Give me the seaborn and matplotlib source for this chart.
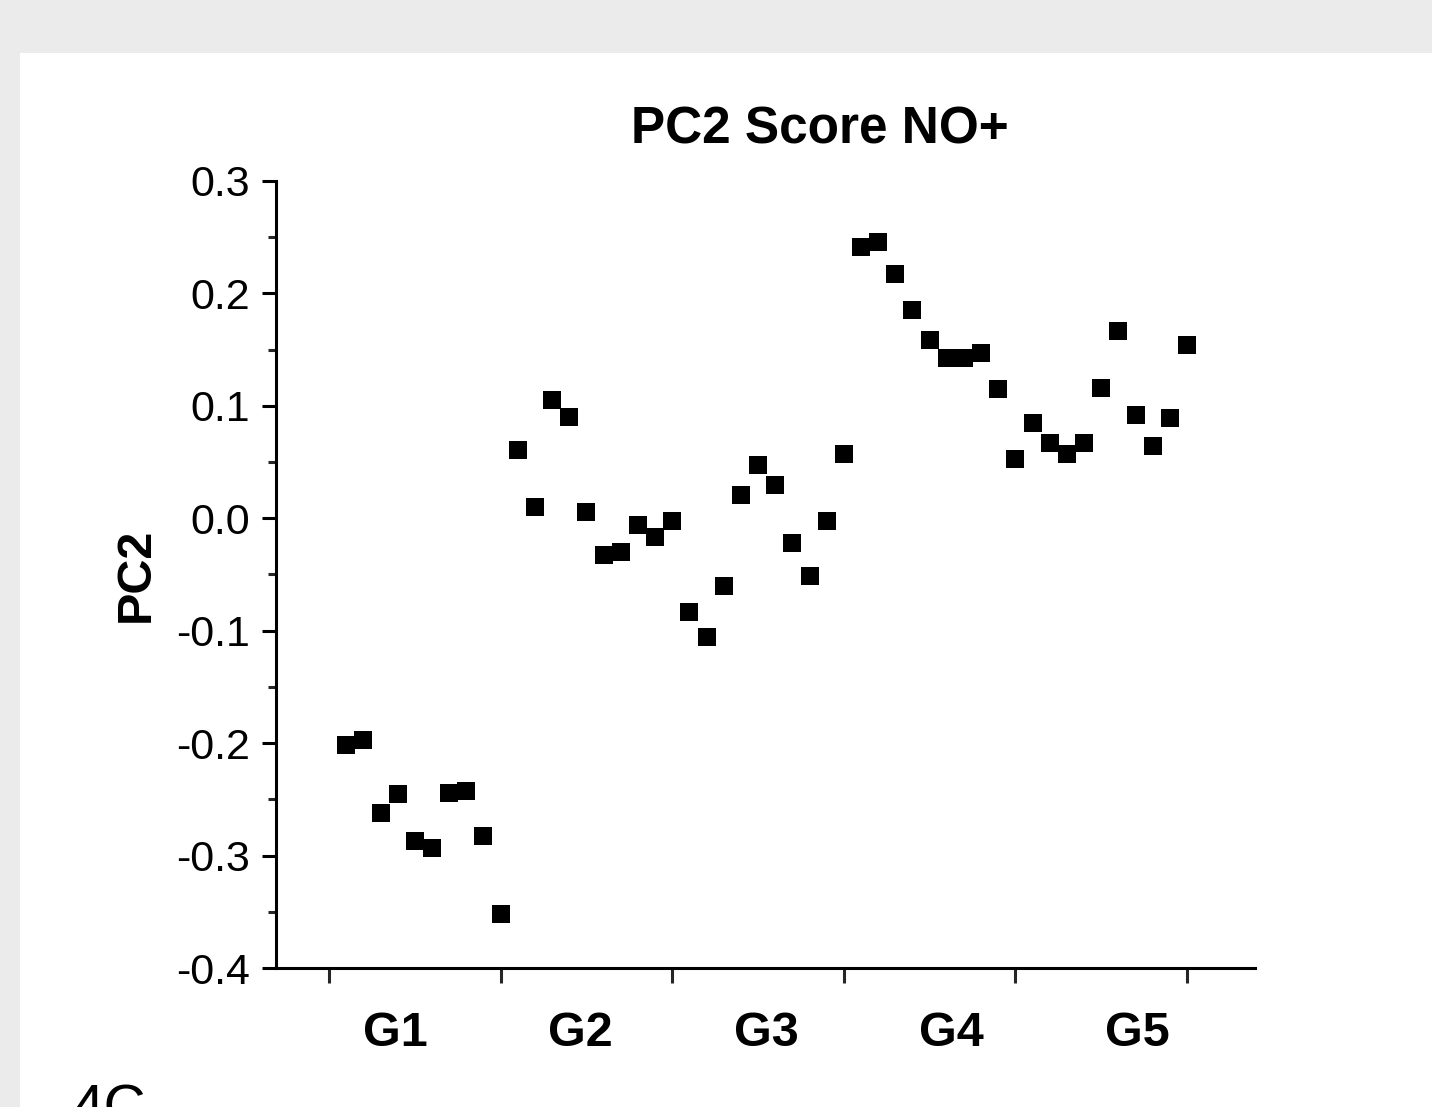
import numpy as np
import pandas as pd
import matplotlib
matplotlib.use("Agg")
import matplotlib.pyplot as plt
from matplotlib.patches import Rectangle
from matplotlib.transforms import blended_transform_factory
from matplotlib.ticker import MultipleLocator
import seaborn as sns

# PC2 scores, ten samples per group
g1 = [-0.202, -0.197, -0.262, -0.245, -0.287, -0.293, -0.244, -0.243, -0.283, -0.352]
g2 = [0.061, 0.010, 0.105, 0.090, 0.006, -0.033, -0.030, -0.006, -0.017, -0.002]
g3 = [-0.083, -0.106, -0.060, 0.021, 0.047, 0.030, -0.022, -0.051, -0.002, 0.057]
g4 = [0.241, 0.246, 0.217, 0.185, 0.159, 0.143, 0.143, 0.147, 0.115, 0.053]
g5 = [0.085, 0.067, 0.057, 0.067, 0.116, 0.167, 0.092, 0.064, 0.089, 0.154]
groups = ["G1", "G2", "G3", "G4", "G5"]
group_label_x = [3.85, 14.63, 25.47, 36.25, 47.09]
y_ticks = [0.3, 0.2, 0.1, 0.0, -0.1, -0.2, -0.3, -0.4]

scores = g1 + g2 + g3 + g4 + g5
df = pd.DataFrame({
    "sample": np.arange(1, len(scores) + 1),
    "PC2": scores,
    "group": np.repeat(groups, 10),
})

sns.set_theme(style="ticks")
plt.rcParams["font.family"] = ["Liberation Sans", "DejaVu Sans"]
plt.rcParams["axes.unicode_minus"] = False

fig = plt.figure(figsize=(14.32, 11.07), dpi=100, facecolor="#ebebeb")
# white page panel behind the plot
fig.patches.append(Rectangle((20 / 1432, 0), 1.0, (1107 - 53) / 1107,
                             transform=fig.transFigure, facecolor="white",
                             edgecolor="none", zorder=-10))
ax = fig.add_axes([276 / 1432, 1 - 968 / 1107, (1255 - 276) / 1432, (968 - 181) / 1107])
ax.set_zorder(1)
ax.set_facecolor("none")

sns.scatterplot(data=df, x="sample", y="PC2", ax=ax, marker="s", s=165,
                color="black", linewidth=0, legend=False, zorder=3)

ax.set_xlim(-3.09, 53.96)
ax.set_ylim(-0.4, 0.3)
ax.set_yticks(y_ticks)
ax.set_yticklabels([f"{v:.1f}" for v in y_ticks])
ax.yaxis.set_minor_locator(MultipleLocator(0.05))
ax.set_xticks(np.arange(0, 51, 10))
ax.set_xticklabels([])

for side in ("top", "right"):
    ax.spines[side].set_visible(False)
for side in ("left", "bottom"):
    ax.spines[side].set_linewidth(2.2)
    ax.spines[side].set_color("black")

ax.tick_params(axis="y", which="major", length=10, width=2.2, direction="out",
               labelsize=31, pad=9, colors="black")
ax.tick_params(axis="y", which="minor", length=5.5, width=2.2, direction="out")
ax.tick_params(axis="x", which="major", length=11, width=2.2, direction="out")

ax.set_xlabel("")
ax.set_ylabel("")

trans = blended_transform_factory(ax.transData, fig.transFigure)
for name, gx in zip(groups, group_label_x):
    ax.text(gx, 1 - 1033 / 1107, name, transform=trans, ha="center", va="center",
            fontsize=35, fontweight="bold", color="black", clip_on=False)

fig.text(136 / 1432, 1 - 575 / 1107, "PC2", rotation=90, ha="center", va="center",
         fontsize=35, fontweight="bold", color="black")
fig.text(820 / 1432, 1 - 130 / 1107, "PC2 Score NO+", ha="center", va="center",
         fontsize=37, fontweight="bold", color="black")
fig.text(72 / 1432, 1 - 1125 / 1107, "4C", ha="left", va="baseline",
         fontsize=42, color="black")

fig.savefig("out.png", dpi=100, facecolor=fig.get_facecolor())
